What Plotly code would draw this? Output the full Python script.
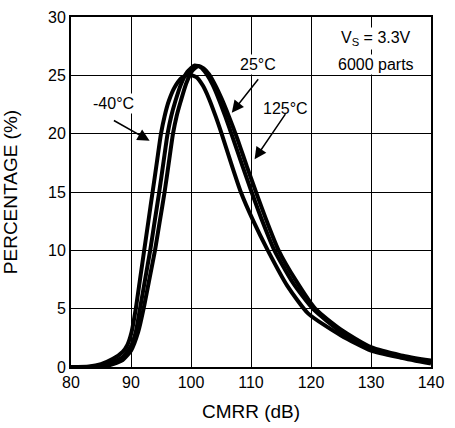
import plotly.graph_objects as go

# CMRR distribution
cmrr_m40 = [80, 83, 85, 87, 88.6, 89.4, 90.1, 90.8, 91.5, 92.2, 92.9, 93.6, 94.3, 95.0, 95.6,
            96.3, 97.3, 98.5, 99.7, 100.9, 102.0, 103.0, 104.1, 105.1, 106.6, 108.3, 110.4,
            112.8, 116, 119.5, 125, 130, 135, 140]
pct_m40 = [0, 0.05, 0.25, 0.7, 1.3, 1.9, 3.0, 5, 7.5, 10, 12.5, 15, 17.5, 20, 21.5,
           22.8, 24.0, 24.8, 25.05, 24.85, 24.1, 23.0, 21.5, 20, 17.6, 15, 12.5,
           10, 7.0, 4.6, 2.7, 1.4, 0.8, 0.3]

cmrr_25 = [80, 84, 86, 87, 88.6, 90, 90.8, 91.5, 92.35, 93.2, 93.95, 94.7, 95.4, 96.1, 96.7,
           97.4, 98.3, 99.4, 100.6, 101.6, 102.6, 103.6, 104.6, 105.7, 107.0, 108.6, 110.1,
           111.9, 113.9, 117, 120.3, 125, 130, 135, 140]
pct_25 = [0, 0.03, 0.15, 0.4, 0.85, 1.8, 3.0, 5, 7.5, 10, 12.5, 15, 17.5, 20, 21.5,
          22.8, 24.2, 25.3, 25.85, 25.7, 25.1, 24.2, 23.0, 21.5, 19.6, 17.2, 15,
          12.5, 10, 7.2, 5, 3.0, 1.5, 0.9, 0.45]

cmrr_125 = [80, 84, 86, 87, 88.6, 90, 91.2, 92.1, 93.05, 94.0, 94.8, 95.6, 96.3, 97.0, 97.6,
            98.3, 99.2, 100.2, 101.2, 102.1, 103.0, 104.0, 105.1, 106.3, 107.7, 109.3, 110.9,
            112.7, 114.6, 117.5, 120.7, 125, 130, 135, 140]
pct_125 = [0, 0.02, 0.1, 0.25, 0.6, 1.4, 3.0, 5, 7.5, 10, 12.5, 15, 17.5, 20, 21.5,
           22.8, 24.3, 25.4, 25.8, 25.6, 25.1, 24.2, 23.0, 21.5, 19.6, 17.2, 14.9,
           12.4, 10, 7.4, 5, 3.2, 1.7, 1.0, 0.55]

x_ticks = [80, 90, 100, 110, 120, 130, 140]
y_ticks = [0, 5, 10, 15, 20, 25, 30]

FONT = "Arial, Liberation Sans, sans-serif"

fig = go.Figure()
for xs, ys, name in [(cmrr_m40, pct_m40, "-40°C"), (cmrr_25, pct_25, "25°C"),
                     (cmrr_125, pct_125, "125°C")]:
    fig.add_trace(go.Scatter(x=xs, y=ys, mode="lines", name=name,
                             line=dict(color="black", width=4, shape="spline", smoothing=0.6)))

# labels and arrows
labels = [("-40°C", 87.0, 22.6), ("25°C", 111.2, 25.95), ("125°C", 115.7, 22.2),
          ("V<sub>S</sub> = 3.3V", 130.9, 28.2), ("6000 parts", 130.8, 25.9)]
for txt, lx, ly in labels:
    fig.add_annotation(x=lx, y=ly, text=txt, showarrow=False, bgcolor="white",
                       borderpad=1, font=dict(size=16, color="black", family=FONT))

arrows = [(93.1, 19.4, 86.9, 21.2), (106.8, 21.8, 111.4, 24.8), (110.6, 17.8, 115.9, 21.8)]
for hx, hy, tx, ty in arrows:
    fig.add_annotation(x=hx, y=hy, ax=tx, ay=ty, axref="x", ayref="y", text="",
                       showarrow=True, arrowhead=2, arrowsize=1.6, arrowwidth=1.5,
                       arrowcolor="black")

fig.update_layout(
    width=455, height=428,
    margin=dict(l=68, r=24, t=9, b=56),
    paper_bgcolor="white", plot_bgcolor="white",
    showlegend=False,
    font=dict(family=FONT, size=16, color="black"),
)
fig.update_xaxes(range=[80, 140], tickvals=x_ticks, showgrid=True, gridcolor="black",
                 gridwidth=1.3, showline=True, linecolor="black", linewidth=2, mirror=True,
                 zeroline=False, ticks="", title=dict(text="CMRR (dB)", standoff=14),
                 tickfont=dict(size=16))
fig.update_yaxes(range=[0, 30], tickvals=y_ticks, showgrid=True, gridcolor="black",
                 gridwidth=1.3, showline=True, linecolor="black", linewidth=2, mirror=True,
                 zeroline=False, ticks="", title=dict(text="PERCENTAGE (%)", standoff=26),
                 tickfont=dict(size=16))

# drop the page's default body margin so the figure sits at the window corner
fig.write_html("out.html", config={"displayModeBar": False},
               post_script="document.body.style.margin='0';")
